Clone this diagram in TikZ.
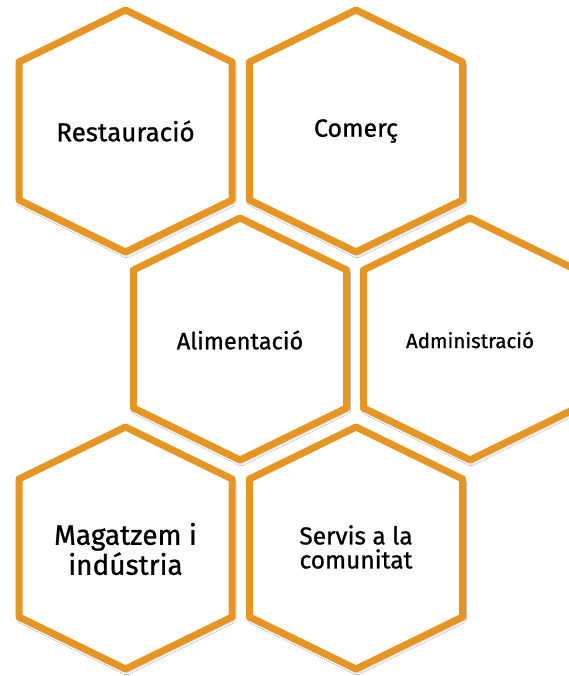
\documentclass[tikz,border=0pt]{standalone}
\usepackage{fontspec}
\setmainfont{Fira Sans}[FakeBold=0.9]
\usetikzlibrary{shadows.blur}
\definecolor{hexorange}{RGB}{230,148,34}
\tikzset{
  hexline/.style={draw=hexorange, fill=white, line width=7pt, line join=round,
    blur shadow={shadow xshift=1pt, shadow yshift=-3pt, shadow blur radius=3pt, shadow opacity=35}},
  hexlabel/.style={align=center, text=black, inner sep=0pt},
  pics/hexa/.style={code={
    \path[hexline] (0,-121) -- (106.5,-69) -- (106.5,69) -- (0,121) -- (-106.5,69) -- (-106.5,-69) -- cycle;
  }}
}
\begin{document}
\begin{tikzpicture}[x=1pt,y=-1pt]
\clip (0,0) rectangle (569,676);
\fill[white] (0,0) rectangle (569,676);
\pic at (125.5,131) {hexa};
\pic at (356,131) {hexa};
\pic at (240,339) {hexa};
\pic at (470,339) {hexa};
\pic at (125.5,548) {hexa};
\pic at (356,548) {hexa};
\node[hexlabel, font=\fontsize{26}{30}\selectfont] (rest) at (125.5,131) {Restauració};
\node[hexlabel, font=\fontsize{25}{29}\selectfont] (com) at (356,131) {Comerç};
\node[hexlabel, font=\fontsize{23.5}{27}\selectfont] (alim) at (240,340) {Alimentació};
\node[hexlabel, font=\fontsize{20.5}{24}\selectfont] (adm) at (470,340) {Administració};
\node[hexlabel, font=\fontsize{28}{30}\selectfont] (mag) at (125.5,549) {Magatzem i\\indústria};
\node[hexlabel, font=\fontsize{24.5}{24}\selectfont] (serv) at (356,547) {Servis a la\\comunitat};
\end{tikzpicture}
\end{document}
